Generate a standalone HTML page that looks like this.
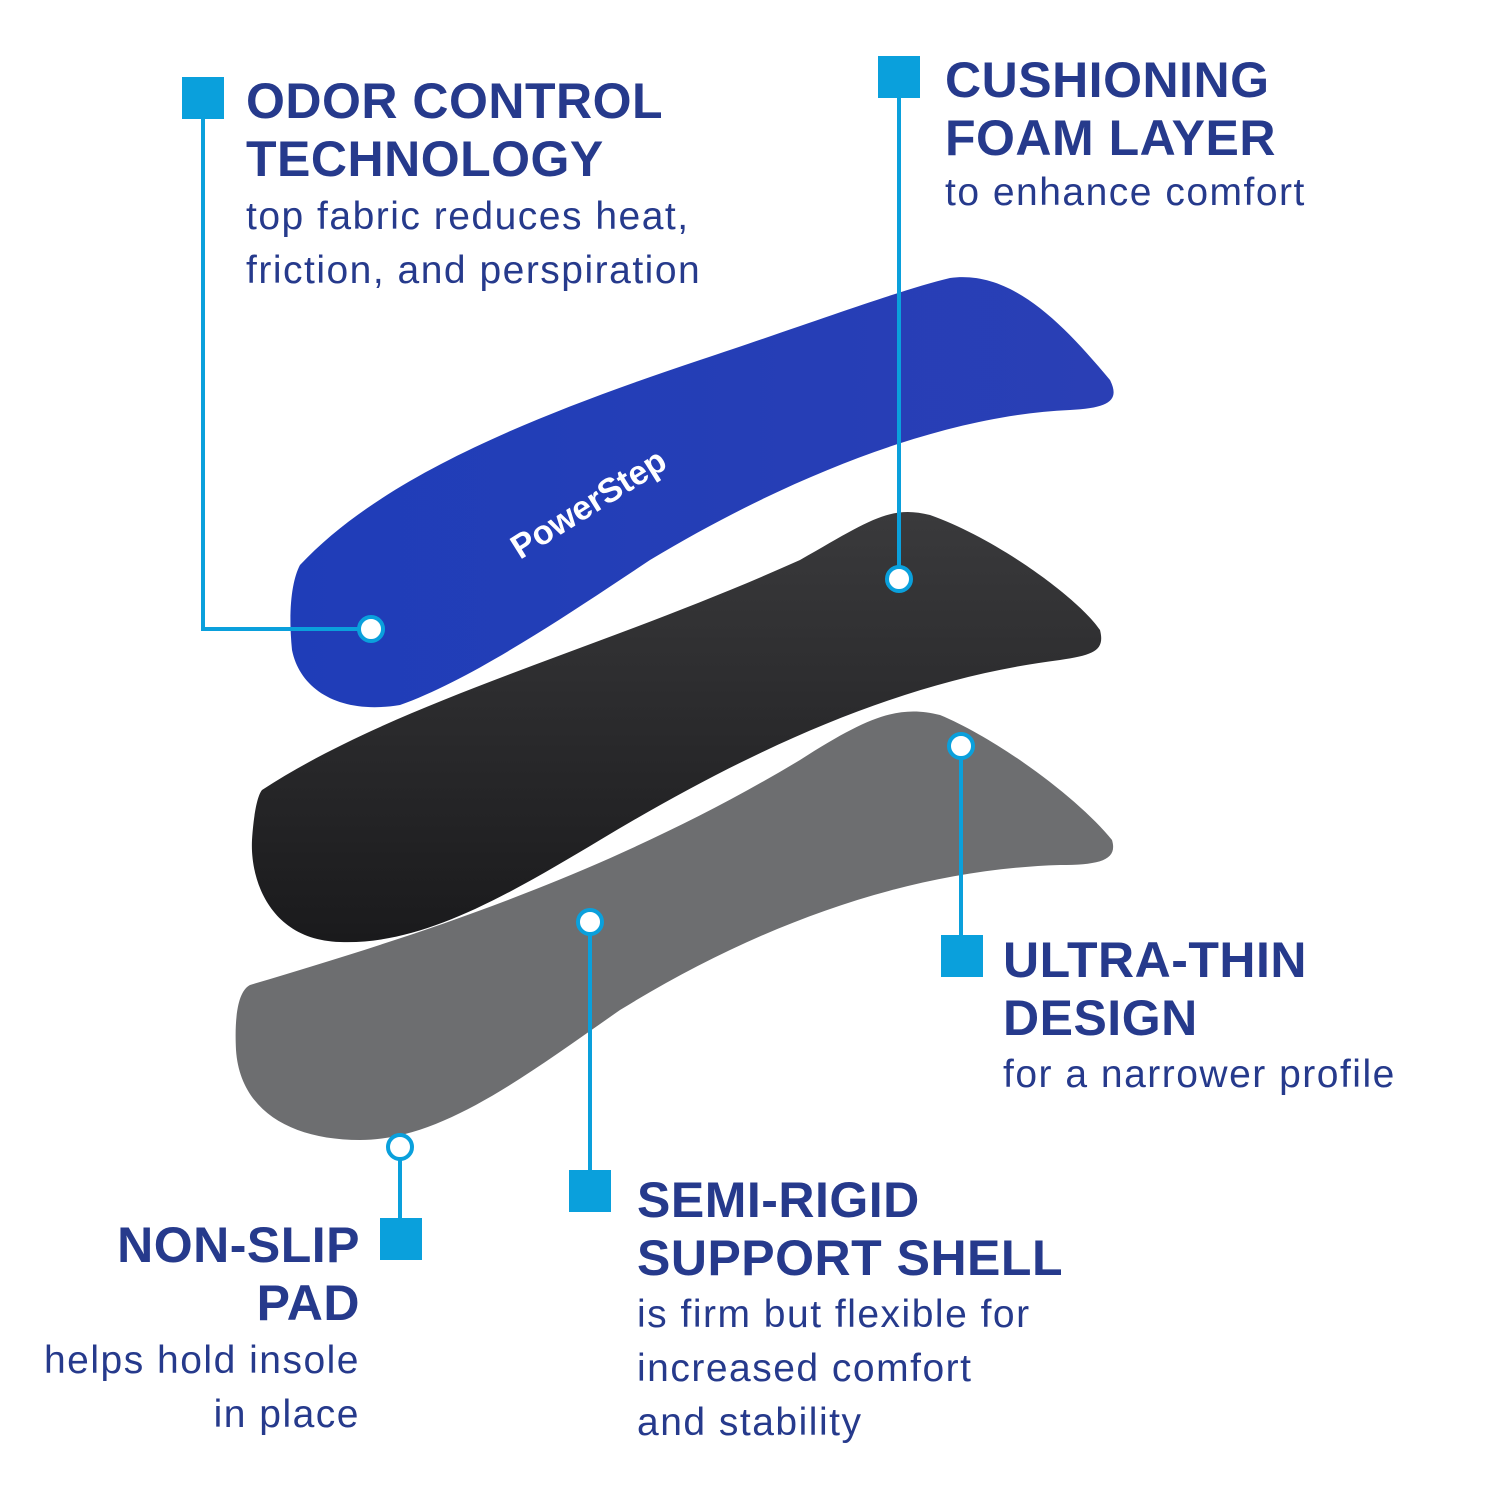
<!DOCTYPE html>
<html><head><meta charset="utf-8"><style>
html,body{margin:0;padding:0;background:#fff}
.w{position:relative;width:1500px;height:1500px;overflow:hidden;font-family:"Liberation Sans",sans-serif}
.t{position:absolute;color:#263a8c;font-weight:bold;font-size:50px;line-height:58px;white-space:nowrap;letter-spacing:0.5px}
.s{position:absolute;color:#263a8c;font-size:39px;line-height:54px;white-space:nowrap;letter-spacing:1.5px}
</style></head><body><div class="w">
<svg width="1500" height="1500" style="position:absolute;left:0;top:0">
<defs>
<linearGradient id="gb" x1="0" y1="0" x2="1" y2="0"><stop offset="0" stop-color="#1f3db8"/><stop offset="1" stop-color="#2a3fb5"/></linearGradient>
<linearGradient id="gk" x1="0" y1="0" x2="0" y2="1"><stop offset="0" stop-color="#3a3a3c"/><stop offset="1" stop-color="#1a1a1c"/></linearGradient>
</defs>
<path d="M250,985 C400,940 600,880 800,760 C870,715 900,705 940,715 C1000,740 1080,800 1112,840 C1118,860 1100,865 1060,865 C900,870 750,930 620,1010 C520,1080 440,1140 360,1140 C290,1140 240,1110 236,1050 C234,1010 240,990 250,985 Z" fill="#6d6e70"/>
<path d="M262,790 C400,700 600,650 800,560 C870,520 890,505 930,515 C1000,540 1080,600 1100,630 C1105,650 1095,655 1060,660 C900,680 750,750 600,840 C500,900 420,945 340,942 C270,940 250,880 252,840 C254,810 258,795 262,790 Z" fill="url(#gk)"/>
<path d="M300,565 C380,480 520,420 700,360 C820,320 900,290 950,278 C1010,270 1060,320 1110,380 C1120,400 1110,408 1070,410 C950,415 800,470 650,560 C560,620 470,680 400,705 C340,715 300,690 292,650 C288,610 292,580 300,565 Z" fill="url(#gb)"/>
<text x="520" y="560" transform="rotate(-32 520 560)" fill="#fff" font-family="Liberation Sans" font-weight="bold" font-size="34">PowerStep</text>
<g stroke="#0aa0dc" stroke-width="4" fill="none">
<polyline points="203,119 203,629 360,629"/>
<line x1="899" y1="98" x2="899" y2="567"/>
<line x1="961" y1="758" x2="961" y2="935"/>
<line x1="590" y1="934" x2="590" y2="1170"/>
<line x1="400" y1="1159" x2="400" y2="1218"/>
</g>
<g fill="#fff" stroke="#0aa0dc" stroke-width="4">
<circle cx="371" cy="629" r="12"/><circle cx="899" cy="579" r="12"/><circle cx="961" cy="746" r="12"/><circle cx="590" cy="922" r="12"/><circle cx="400" cy="1147" r="12"/>
</g>
<g fill="#0aa0dc">
<rect x="182" y="77" width="42" height="42"/><rect x="878" y="56" width="42" height="42"/><rect x="941" y="935" width="42" height="42"/><rect x="569" y="1170" width="42" height="42"/><rect x="380" y="1218" width="42" height="42"/>
</g>
</svg>
<div class="t" style="left:246px;top:72px">ODOR CONTROL<br>TECHNOLOGY</div>
<div class="s" style="left:246px;top:190px">top fabric reduces heat,<br>friction, and perspiration</div>
<div class="t" style="left:945px;top:51px">CUSHIONING<br>FOAM LAYER</div>
<div class="s" style="left:945px;top:166px">to enhance comfort</div>
<div class="t" style="left:1003px;top:931px">ULTRA-THIN<br>DESIGN</div>
<div class="s" style="left:1003px;top:1048px">for a narrower profile</div>
<div class="t" style="left:637px;top:1171px">SEMI-RIGID<br>SUPPORT SHELL</div>
<div class="s" style="left:637px;top:1288px">is firm but flexible for<br>increased comfort<br>and stability</div>
<div class="t" style="right:1140px;top:1216px;text-align:right">NON-SLIP<br>PAD</div>
<div class="s" style="right:1140px;top:1334px;text-align:right">helps hold insole<br>in place</div>
</div></body></html>
